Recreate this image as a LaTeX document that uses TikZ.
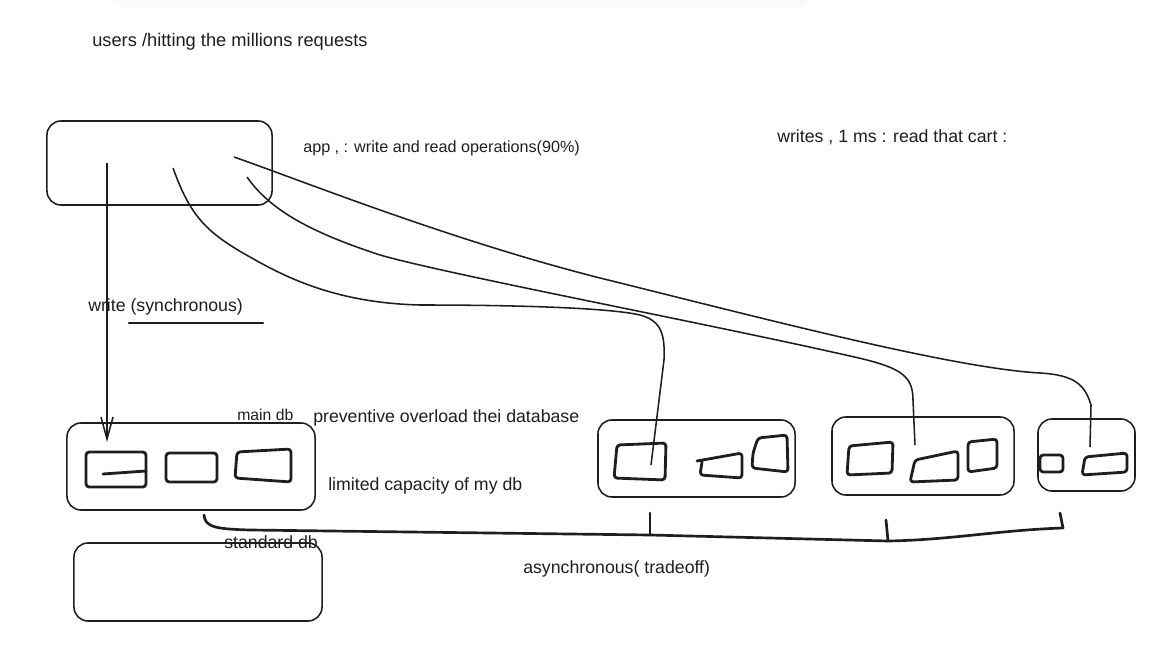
\documentclass[tikz,border=0pt]{standalone}
\usepackage{fontspec}
\setmainfont{Liberation Sans}
\usetikzlibrary{arrows.meta}
\definecolor{ink}{HTML}{1E1E1E}

\begin{document}
\begin{tikzpicture}[x=0.025cm, y=-0.025cm,
		box/.style={draw=ink, line width=1.1pt, rounded corners=0.35cm, inner sep=0pt},
		shard/.style={draw=ink, line width=2pt, rounded corners=0.08cm, line join=round, line cap=round},
		wire/.style={draw=ink, line width=1.1pt},
		brace/.style={draw=ink, line width=1.9pt, line cap=round, line join=round},
		lbl/.style={text=ink, anchor=west, inner sep=0pt, font=\fontsize{12.6}{15}\selectfont}]
			%%%%% START %%%%%
			
			\useasboundingbox (0, 0) rectangle (1166, 656);
			\fill[black!2, rounded corners=0.3cm] (110, -12) rectangle (810, 8);
			
			\node[lbl, font=\fontsize{13}{15}\selectfont] (users) at (92, 42) {users /hitting the millions requests};
			
			\node[box, minimum width=5.625cm, minimum height=2.1cm] (app) at (159.5, 163) {};
			\node[lbl, font=\fontsize{11.5}{14}\selectfont] (appops) at (303, 148) {app , : write and read operations(90\%)};
			\node[lbl] (cart) at (777, 137) {writes , 1 ms : read that cart :};
			
			\node[lbl] (sync) at (88, 307) {write (synchronous)};
			\draw[brace, line width=1.6pt] (129, 323) -- (263, 323);
			
			% main and standard db
			\node[box, minimum width=6.2cm, minimum height=2.175cm] (maindb) at (191, 466.5) {};
			\node[lbl, font=\fontsize{11.2}{14}\selectfont] (mainlbl) at (237, 415) {main db};
			\node[lbl] (prevent) at (313, 418) {preventive overload thei database};
			\node[lbl] (limited) at (328, 486) {limited capacity of my db};
			\draw[shard] (86, 452) rectangle (146, 487);
			\draw[shard] (103, 474) -- (146, 471);
			\draw[shard] (166, 453) rectangle (217, 482);
			\draw[shard] (237, 452) -- (291, 449) -- (291, 482) -- (235, 478) -- cycle;
			
			\node[box, minimum width=6.2cm, minimum height=1.95cm] (stddb) at (198, 582) {};
			\node[lbl] (stdlbl) at (224, 542) {standard db};
			
			% replica groups
			\node[box, minimum width=4.925cm, minimum height=1.925cm] (grpa) at (696.5, 458.5) {};
			\draw[shard] (617, 445) -- (666, 443) -- (665, 480) -- (614, 478) -- cycle;
			\draw[shard] (697, 461) -- (742, 453) -- (742, 478) -- (700, 475) -- (702, 462);
			\draw[shard] (758, 438) -- (787, 435) -- (788, 472) -- (752, 468) -- (753, 453) -- cycle;
			
			\node[box, minimum width=4.55cm, minimum height=1.95cm] (grpb) at (923, 456) {};
			\draw[shard] (849, 446) -- (893, 442) -- (892, 473) -- (847, 475) -- cycle;
			\draw[shard] (915, 460) -- (958, 451) -- (958, 480) -- (910, 482) -- cycle;
			\draw[shard] (968, 442) -- (997, 439) -- (997, 468) -- (968, 472) -- cycle;
			
			\node[box, minimum width=2.425cm, minimum height=1.8cm] (grpc) at (1086.5, 455) {};
			\draw[shard] (1040, 455) rectangle (1063, 472);
			\draw[shard] (1085, 457) -- (1127, 453) -- (1127, 472) -- (1082, 475) -- cycle;
			
			% wires out of the app
			\coordinate (appw) at (107, 163);
			\coordinate (mainin) at (107, 442);
			\coordinate (appa) at (173, 168);
			\coordinate (grpain) at (651, 465);
			\coordinate (appb) at (247, 177);
			\coordinate (grpbin) at (915, 445);
			\coordinate (appc) at (234, 157);
			\coordinate (grpcin) at (1090, 447);
			
			\draw[wire, -{Straight Barb[length=0.55cm, width=0.3cm]}] (appw) -- (mainin);
			\draw[wire] (appa) .. controls (190, 215) and (205, 232) .. (250, 257)
				.. controls (290, 280) and (340, 303) .. (420, 305)
				.. controls (520, 305) and (610, 308) .. (640, 315)
				.. controls (662, 321) and (665, 335) .. (664, 360) -- (grpain);
			\draw[wire] (appb) .. controls (270, 210) and (310, 232) .. (380, 255)
				.. controls (450, 275) and (700, 322) .. (850, 356)
				.. controls (900, 367) and (913, 375) .. (913, 400) -- (grpbin);
			\draw[wire] (appc) .. controls (300, 180) and (450, 240) .. (600, 278)
				.. controls (750, 315) and (950, 368) .. (1040, 373)
				.. controls (1075, 375) and (1085, 385) .. (1091, 405) -- (grpcin);
			
			% async brace
			\coordinate (bstart) at (204, 515);
			\coordinate (tica) at (650, 513);
			\coordinate (ticb) at (886, 520);
			\coordinate (ticc) at (1060, 513);
			\draw[brace] (bstart) .. controls (205, 527) and (215, 529) .. (250, 530)
				-- (650, 535) -- (888, 541)
				.. controls (950, 540) and (1000, 530) .. (1063, 528) -- (ticc);
			\draw[brace] (tica) -- (650, 535);
			\draw[brace] (ticb) -- (888, 541);
			\node[lbl] (async) at (523, 569) {asynchronous( tradeoff)};
			
			%%%%% END %%%%%
		\end{tikzpicture}
\end{document}
